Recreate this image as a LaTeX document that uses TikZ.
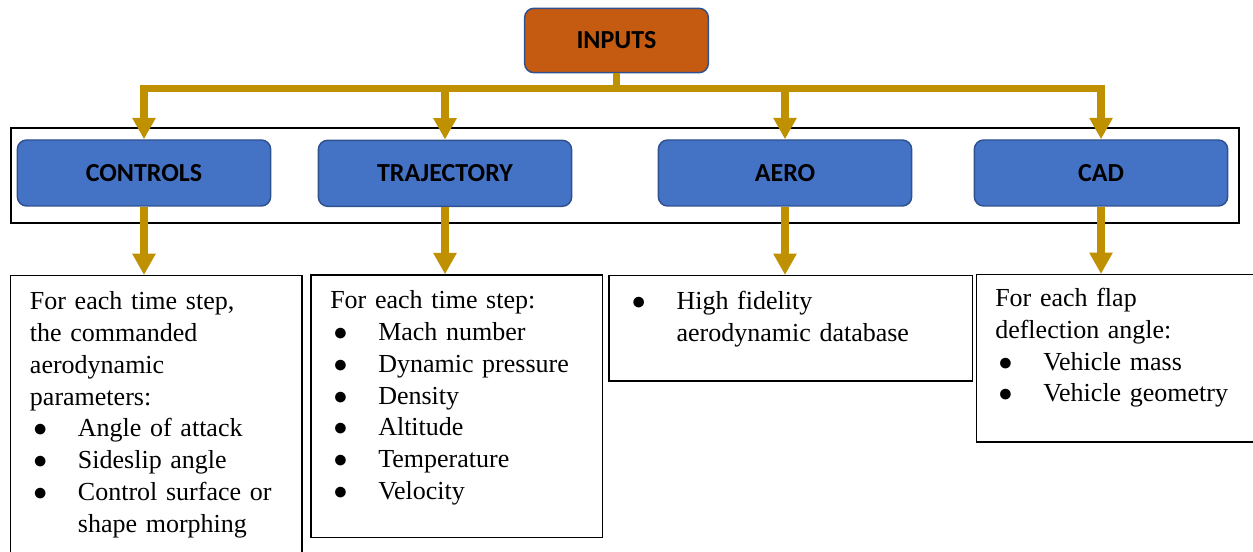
\documentclass[tikz,border=0pt]{standalone}
\usepackage{fontspec}
\setmainfont{Liberation Serif}
\newfontfamily\hdrfont{Carlito}
\usetikzlibrary{arrows.meta}
\definecolor{inorange}{HTML}{C55A11}
\definecolor{hdrblue}{HTML}{4472C4}
\definecolor{hdredge}{HTML}{2F528F}
\definecolor{flowgold}{HTML}{BF9000}
\newcommand{\bul}{\hspace*{2.5pt}\makebox[33.5pt][l]{$\bullet$}}
\newcommand{\cont}{\hspace*{36pt}}

\begin{document}
\begin{tikzpicture}[x=0.75pt, y=-0.75pt,
    hdr/.style={draw=hdredge, line width=1.1pt, rounded corners=7pt, fill=hdrblue,
        minimum width=190pt, minimum height=49.5pt,
        font=\hdrfont\bfseries\fontsize{19.5}{23}\selectfont},
    flow/.style={draw=flowgold, line width=5.6pt, -{Triangle[width=16.5pt,length=16pt]}},
    outbox/.style={draw, line width=1.1pt, anchor=north west, inner sep=0pt},
    txt/.style={anchor=base west, inner sep=0pt, text width=240pt, align=left,
        font=\fontsize{19.5}{23.8}\selectfont}]
    \useasboundingbox (0,0) rectangle (1253,552);

    % frame round the four input groups
    \node[draw, line width=1.5pt, anchor=north west, inner sep=0pt,
        minimum width=920.8pt, minimum height=71.25pt] (row) at (9.8,126.7) {};

    \node[hdr, fill=inorange, minimum width=137.8pt, minimum height=48.3pt] (inputs) at (616.5,40.5) {INPUTS};
    \node[hdr] (ctrl) at (144,173) {CONTROLS};
    \node[hdr] (traj) at (445,173.3) {TRAJECTORY};
    \node[hdr] (aero) at (785,173) {AERO};
    \node[hdr] (cad)  at (1101,173) {CAD};

    % description boxes
    \node[outbox, minimum width=218.6pt, minimum height=213.8pt] (ctrlbox) at (9.9,275) {};
    \node[outbox, minimum width=218.6pt, minimum height=196.8pt] (trajbox) at (310.4,274.3) {};
    \node[outbox, minimum width=272.5pt, minimum height=78.8pt] (aerobox) at (608.3,275) {};
    \node[outbox, minimum width=213pt, minimum height=125.3pt] (cadbox) at (975.8,274) {};

    \node[txt] (ctrltxt) at (29.7,310) {For each time step,\\ the commanded\\ aerodynamic\\ parameters:\\
        \bul Angle of attack\\ \bul Sideslip angle\\ \bul Control surface or\\ \cont shape morphing};
    \node[txt] (trajtxt) at (330,309) {For each time step:\\ \bul Mach number\\ \bul Dynamic pressure\\
        \bul Density\\ \bul Altitude\\ \bul Temperature\\ \bul Velocity};
    \node[txt] (aerotxt) at (628.3,310) {\bul High fidelity\\ \cont aerodynamic database};
    \node[txt] (cadtxt) at (995,306.7) {For each flap\\ deflection angle:\\ \bul Vehicle mass\\ \bul Vehicle geometry};

    % connectors
    \coordinate (bus) at (616.5,88.3);
    \draw[flowgold, line width=5.6pt] (inputs.south) -- ++(0,4) -- (bus);
    \foreach \grp in {ctrl,traj,aero,cad} {
        \draw[flow] (bus) -| (\grp.north);
        \draw[flow] (\grp.south) -- (\grp.south |- \grp box.north);
    }
\end{tikzpicture}
\end{document}
